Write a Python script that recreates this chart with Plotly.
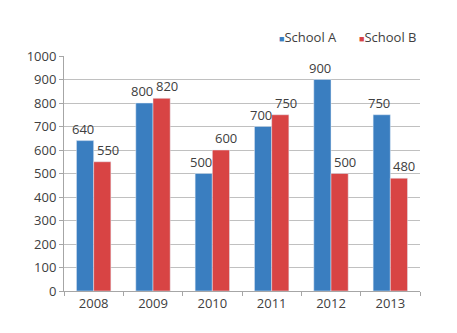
import plotly.graph_objects as go

years = ["2008", "2009", "2010", "2011", "2012", "2013"]
school_a = [640, 800, 500, 700, 900, 750]
school_b = [550, 820, 600, 750, 500, 480]
y_ticks = [0, 100, 200, 300, 400, 500, 600, 700, 800, 900, 1000]
series_names = ["School A", "School B"]
colors = ["#3A7EC0", "#D84444"]

txt = dict(family="Open Sans", size=13, color="#404040")

fig = go.Figure()
for name, vals, col in zip(series_names, [school_a, school_b], colors):
    fig.add_trace(go.Bar(x=years, y=vals, name=name, marker_color=col,
                         showlegend=False))

# value labels, nudged apart like the reference (x given as category index)
label_shift = [-11, 14]
for vals, xs in zip([school_a, school_b], label_shift):
    for i, v in enumerate(vals):
        fig.add_annotation(x=i, y=v, xref="x", yref="y", text=str(v),
                           showarrow=False, xanchor="center", yanchor="bottom",
                           xshift=xs, yshift=1, font=txt)

# legend drawn as text entries with coloured square glyphs
legend_x = [0.597, 0.822]
for name, col, lx in zip(series_names, colors, legend_x):
    fig.add_annotation(xref="paper", yref="paper", x=lx, y=1.08, xanchor="left",
                       yanchor="middle", showarrow=False,
                       text=f"<span style='color:{col};font-size:9px'>■</span>{name}",
                       font=txt)

fig.update_layout(
    width=457, height=333,
    margin=dict(l=64, r=37, t=56, b=42),
    paper_bgcolor="white", plot_bgcolor="white",
    font=txt,
    barmode="group", bargap=0.42, bargroupgap=0,
    showlegend=False,
)
fig.update_xaxes(type="category", categoryorder="array", categoryarray=years,
                 showline=True, linecolor="#A6A6A6", linewidth=1,
                 ticks="outside", tickson="boundaries", ticklen=4, tickcolor="#A6A6A6",
                 showgrid=False, tickfont=txt)
fig.update_yaxes(range=[0, 1000], tickvals=y_ticks, showgrid=True, gridcolor="#C0C0C0",
                 showline=True, linecolor="#A6A6A6", ticks="outside", ticklen=4,
                 tickcolor="#A6A6A6", zeroline=False, tickfont=txt)

fig.write_html("out.html")
